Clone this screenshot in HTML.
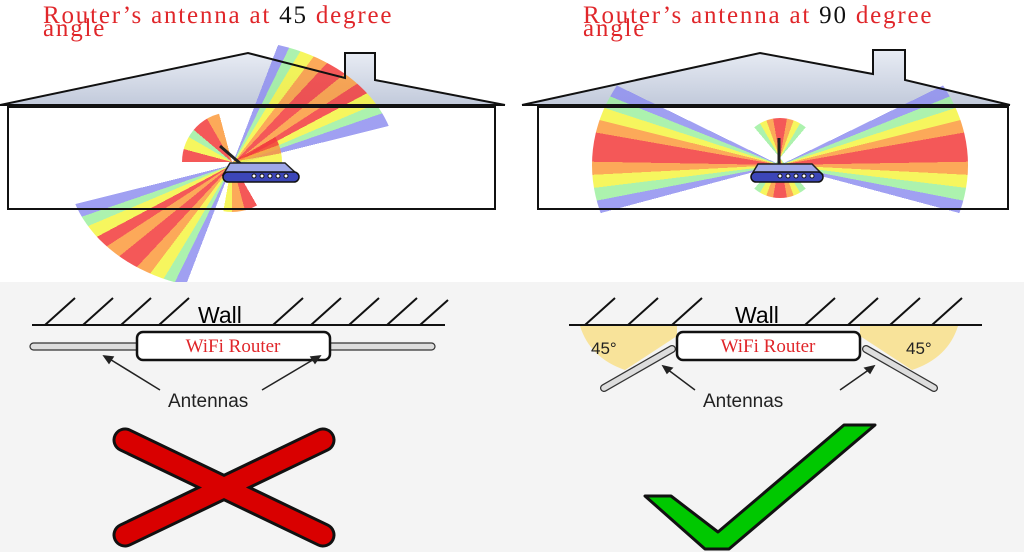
<!DOCTYPE html>
<html><head><meta charset="utf-8"><style>
html,body{margin:0;padding:0;width:1024px;height:552px;overflow:hidden;background:#fff}
.fan{position:absolute;border-radius:50%;opacity:.85}
.t{position:absolute;font-family:"Liberation Serif",serif;color:#e0262a;font-size:25px;line-height:13px;letter-spacing:1.8px}
</style></head><body>
<div style="position:absolute;left:0;top:282px;width:1024px;height:270px;background:#f4f4f4"></div>
<svg style="position:absolute;left:0;top:0" width="1024" height="552">
<defs><linearGradient id="rf" x1="0" y1="0" x2="0" y2="1"><stop offset="0" stop-color="#e8ecf4"/><stop offset="1" stop-color="#c2cadb"/></linearGradient></defs>
<polygon points="0,105 248,53 345,78 345,53 375,53 375,80 505,105" fill="url(#rf)"/>
<polygon points="522,105 760,53 873,74 873,50 905,50 905,80 1010,105" fill="url(#rf)"/>
</svg>
<div class="fan" style="left:67px;top:40px;width:330px;height:250px;background:conic-gradient(transparent 0deg 21deg,#8f8fef 21deg 26deg,#9ef0a0 26deg 31deg,#f5f541 31deg 37deg,#fb9a3c 37deg 43deg,#f23b3b 43deg 51deg,#fb9a3c 51deg 57deg,#f23b3b 57deg 62deg,#f5f541 62deg 67deg,#9ef0a0 67deg 71deg,#8f8fef 71deg 76deg,transparent 76deg 201deg,#8f8fef 201deg 206deg,#9ef0a0 206deg 211deg,#f5f541 211deg 217deg,#fb9a3c 217deg 223deg,#f23b3b 223deg 231deg,#fb9a3c 231deg 237deg,#f23b3b 237deg 242deg,#f5f541 242deg 247deg,#9ef0a0 247deg 251deg,#8f8fef 251deg 256deg,transparent 256deg)"></div>
<div class="fan" style="left:182px;top:112px;width:100px;height:100px;background:conic-gradient(transparent 0deg 60deg,#f23b3b 60deg 70deg,#fb9a3c 70deg 80deg,#f5f541 80deg 90deg,#9ef0a0 90deg 100deg,transparent 100deg 150deg,#f23b3b 150deg 165deg,#fb9a3c 165deg 180deg,#f5f541 180deg 190deg,transparent 190deg 270deg,#f23b3b 270deg 285deg,#f5f541 285deg 300deg,#9ef0a0 300deg 310deg,#f23b3b 310deg 330deg,#fb9a3c 330deg 345deg,transparent 345deg)"></div>
<div class="fan" style="left:592px;top:5px;width:376px;height:320px;background:conic-gradient(transparent 0deg 64deg,#8f8fef 64deg 68deg,#9ef0a0 68deg 72deg,#f5f541 72deg 76deg,#fb9a3c 76deg 80deg,#f23b3b 80deg 89deg,#fb9a3c 89deg 93deg,#f5f541 93deg 97deg,#9ef0a0 97deg 101deg,#8f8fef 101deg 105deg,transparent 105deg 255deg,#8f8fef 255deg 259deg,#9ef0a0 259deg 263deg,#f5f541 263deg 267deg,#fb9a3c 267deg 271deg,#f23b3b 271deg 280deg,#fb9a3c 280deg 284deg,#f5f541 284deg 288deg,#9ef0a0 288deg 292deg,#8f8fef 292deg 296deg,transparent 296deg)"></div>
<div class="fan" style="left:740px;top:118px;width:80px;height:80px;background:conic-gradient(#f23b3b 0deg 10deg,#fb9a3c 10deg 20deg,#f5f541 20deg 30deg,#9ef0a0 30deg 40deg,transparent 40deg 140deg,#9ef0a0 140deg 150deg,#f5f541 150deg 160deg,#fb9a3c 160deg 170deg,#f23b3b 170deg 190deg,#fb9a3c 190deg 200deg,#f5f541 200deg 210deg,#9ef0a0 210deg 220deg,transparent 220deg 320deg,#9ef0a0 320deg 330deg,#f5f541 330deg 340deg,#fb9a3c 340deg 350deg,#f23b3b 350deg)"></div>
<div style="position:absolute;left:0;top:282px;width:1024px;height:30px;background:#f4f4f4"></div>
<svg style="position:absolute;left:0;top:0" width="1024" height="552" font-family="Liberation Sans, sans-serif">
<g fill="none" stroke="#111" stroke-width="2">
<polyline points="0,105 248,53 345,78 345,53 375,53 375,80 505,105"/>
<line x1="0" y1="105" x2="505" y2="105"/>
<rect x="8" y="107" width="487" height="102"/>
<polyline points="522,105 760,53 873,74 873,50 905,50 905,80 1010,105"/>
<line x1="522" y1="105" x2="1010" y2="105"/>
<rect x="538" y="107" width="470" height="102"/>
</g>
<line x1="220" y1="146" x2="242" y2="165" stroke="#222" stroke-width="3"/>
<path d="M230 163 L285 163 L298 175 L223 175 Z" fill="#9fa8e8" stroke="#222" stroke-width="1.5"/>
<rect x="223" y="172" width="76" height="10" rx="5" fill="#3c46b8" stroke="#111" stroke-width="1.5"/>
<g fill="#fff" stroke="#111"><circle cx="254" cy="176" r="2"/><circle cx="262" cy="176" r="2"/><circle cx="270" cy="176" r="2"/><circle cx="278" cy="176" r="2"/><circle cx="286" cy="176" r="2"/></g>
<line x1="779" y1="138" x2="779" y2="166" stroke="#222" stroke-width="3"/>
<path d="M758 164 L812 164 L822 174 L752 174 Z" fill="#9fa8e8" stroke="#222" stroke-width="1.5"/>
<rect x="751" y="172" width="72" height="10" rx="5" fill="#3c46b8" stroke="#111" stroke-width="1.5"/>
<g fill="#fff" stroke="#111"><circle cx="780" cy="176" r="2"/><circle cx="788" cy="176" r="2"/><circle cx="796" cy="176" r="2"/><circle cx="804" cy="176" r="2"/><circle cx="812" cy="176" r="2"/></g>

<g stroke="#111" stroke-width="2">
<line x1="32" y1="325" x2="445" y2="325"/>
<line x1="45" y1="325" x2="75" y2="298"/><line x1="83" y1="325" x2="113" y2="298"/><line x1="121" y1="325" x2="151" y2="298"/><line x1="159" y1="325" x2="189" y2="298"/><line x1="273" y1="325" x2="303" y2="298"/><line x1="311" y1="325" x2="341" y2="298"/><line x1="349" y1="325" x2="379" y2="298"/><line x1="387" y1="325" x2="417" y2="298"/><line x1="420" y1="325" x2="448" y2="300"/>
<line x1="569" y1="325" x2="982" y2="325"/>
<line x1="585" y1="325" x2="615" y2="298"/><line x1="628" y1="325" x2="658" y2="298"/><line x1="672" y1="325" x2="702" y2="298"/><line x1="805" y1="325" x2="835" y2="298"/><line x1="848" y1="325" x2="878" y2="298"/><line x1="890" y1="325" x2="920" y2="298"/><line x1="932" y1="325" x2="962" y2="298"/>
</g>
<text x="198" y="323" font-size="23">Wall</text>
<text x="735" y="323" font-size="23">Wall</text>
<rect x="30" y="343" width="405" height="7" rx="3.5" fill="#ddd" stroke="#333" stroke-width="1.2"/>
<rect x="137" y="332" width="193" height="28" rx="6" fill="#fff" stroke="#111" stroke-width="2.5"/>
<text x="233" y="352" font-size="19" fill="#e0262a" font-family="Liberation Serif, serif" text-anchor="middle">WiFi Router</text>
<g stroke="#222" stroke-width="1.5" fill="#222">
<line x1="160" y1="390" x2="108" y2="358"/><path d="M104 356 L113 357 L109 363 Z"/>
<line x1="262" y1="390" x2="316" y2="358"/><path d="M320 356 L311 357 L315 363 Z"/>
<line x1="695" y1="390" x2="667" y2="369"/><path d="M663 366 L672 368 L667 373 Z"/>
<line x1="840" y1="390" x2="870" y2="369"/><path d="M874 366 L865 368 L870 373 Z"/>
</g>
<text x="168" y="407" font-size="19" fill="#222">Antennas</text>
<text x="703" y="407" font-size="19" fill="#222">Antennas</text>
<path d="M580 326 L677 326 L677 336 L625 370 Q590 358 580 326 Z" fill="#f8e39a"/>
<path d="M958 326 L860 326 L860 336 L912 370 Q948 358 958 326 Z" fill="#f8e39a"/>
<line x1="672" y1="349" x2="604" y2="388" stroke="#333" stroke-width="8" stroke-linecap="round"/>
<line x1="672" y1="349" x2="604" y2="388" stroke="#ddd" stroke-width="5.5" stroke-linecap="round"/>
<line x1="866" y1="349" x2="934" y2="388" stroke="#333" stroke-width="8" stroke-linecap="round"/>
<line x1="866" y1="349" x2="934" y2="388" stroke="#ddd" stroke-width="5.5" stroke-linecap="round"/>
<rect x="677" y="332" width="183" height="28" rx="6" fill="#fff" stroke="#111" stroke-width="2.5"/>
<text x="768" y="352" font-size="19" fill="#e0262a" font-family="Liberation Serif, serif" text-anchor="middle">WiFi Router</text>
<text x="591" y="354" font-size="17" fill="#222">45°</text>
<text x="906" y="354" font-size="17" fill="#222">45°</text>
<g stroke-linecap="round">
<line x1="125" y1="440" x2="323" y2="535" stroke="#111" stroke-width="25"/>
<line x1="125" y1="535" x2="323" y2="440" stroke="#111" stroke-width="25"/>
<line x1="125" y1="440" x2="323" y2="535" stroke="#d90000" stroke-width="19"/>
<line x1="125" y1="535" x2="323" y2="440" stroke="#d90000" stroke-width="19"/>
</g>
<polygon points="645,496 671,496 718,532 844,425 875,425 729,549 705,549" fill="#00c800" stroke="#111" stroke-width="3" stroke-linejoin="round"/>
</svg>
<div class="t" style="left:43px;top:9px">Router’s antenna at <span style="color:#111">45</span> degree<br>angle</div>
<div class="t" style="left:583px;top:9px">Router’s antenna at <span style="color:#111">90</span> degree<br>angle</div>
</body></html>
